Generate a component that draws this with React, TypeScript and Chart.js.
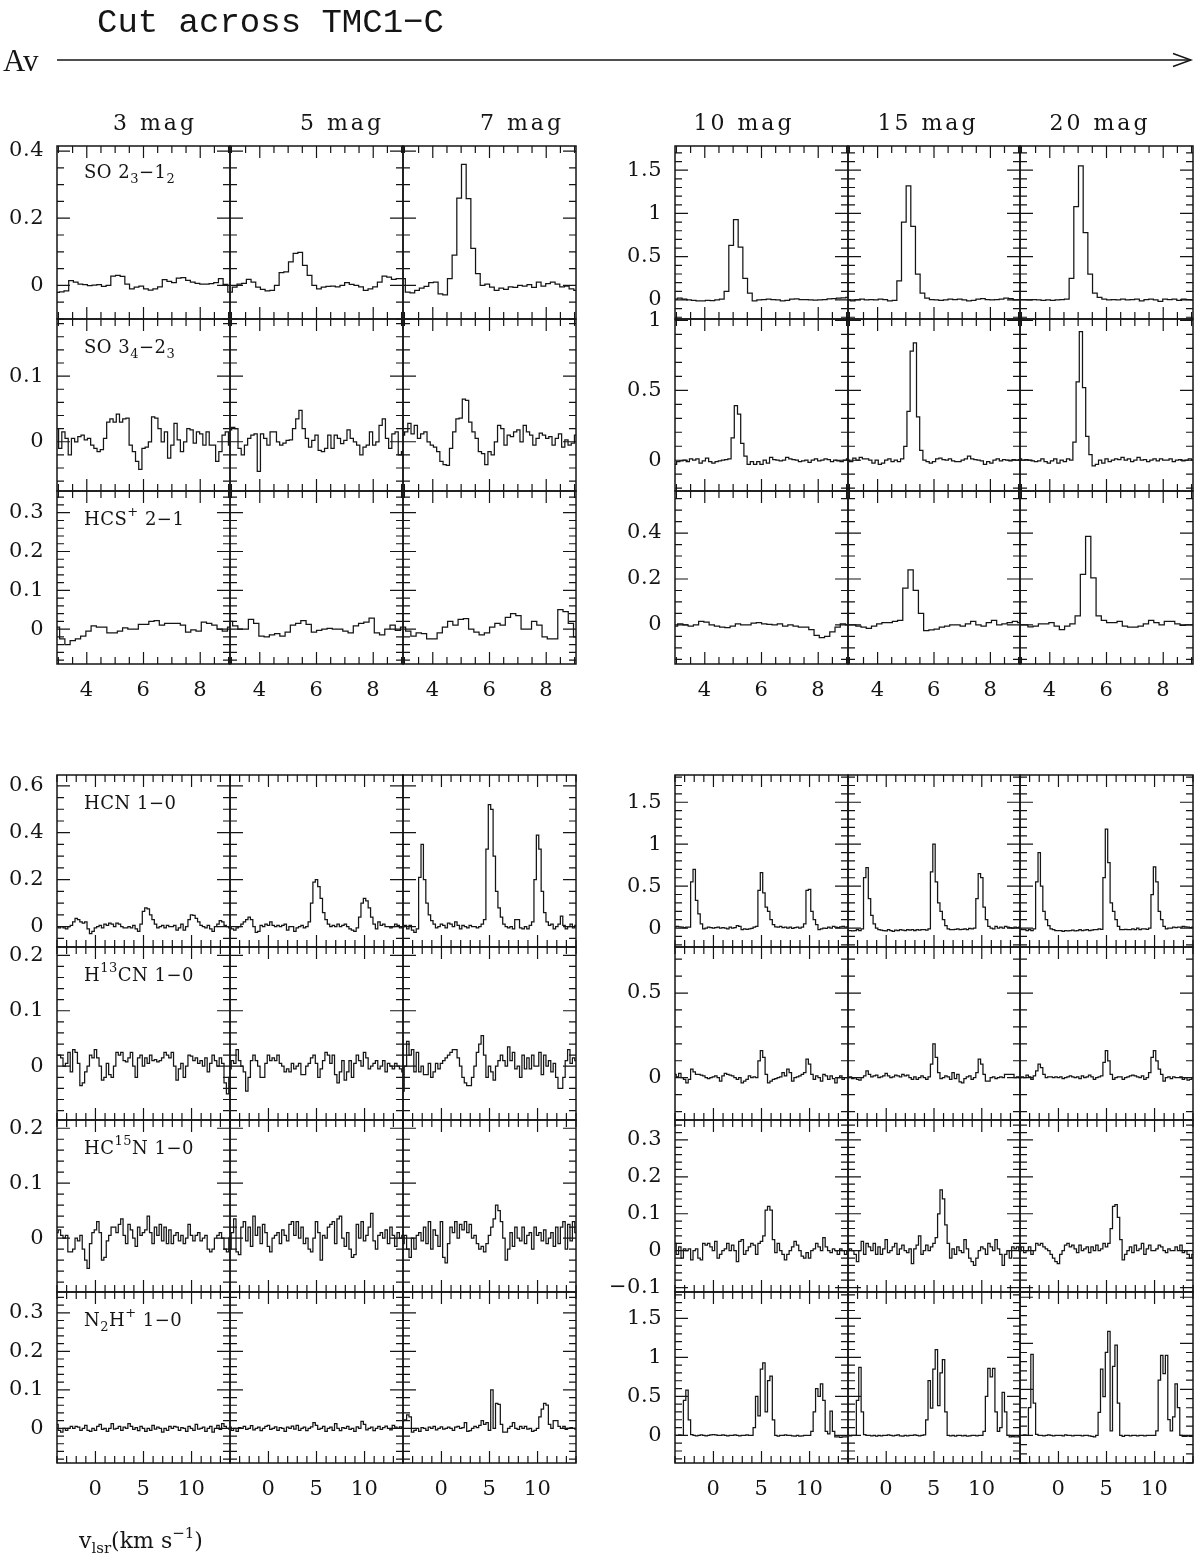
import React, { useEffect, useRef } from "react";
import { Chart, registerables } from "chart.js";

Chart.register(...registerables);

// ---------------- categories & labels ----------------
const magnitudes = ["3 mag", "5 mag", "7 mag", "10 mag", "15 mag", "20 mag"];
const topLines = ["SO 2_{3}−1_{2}", "SO 3_{4}−2_{3}", "HCS^{+} 2−1"];
const bottomLines = ["HCN 1−0", "H^{13}CN 1−0", "HC^{15}N 1−0", "N_{2}H^{+} 1−0"];
const topXTicks = [4, 6, 8];
const bottomXTicks = [0, 5, 10];

// ---------------- channel velocity axes (km/s) ----------------
const so21_v0 = 2.95, so21_dv = 0.165;
const so32_v0 = 2.95, so32_dv = 0.113;
const hcsp_v0 = 2.95, hcsp_dv = 0.185;
const wide_v0 = -4, wide_dv = 0.25;

// ---------------- SO 2_3-1_2 ----------------
const so21_av3 = [-0.021, -0.019, -0.016, 0.014, 0.010, 0.004, 0.002, -0.001, 0.001, 0.002,
  -0.003, 0.000, 0.028, 0.030, 0.027, 0.004, -0.010, -0.005, -0.002, -0.010,
  -0.014, -0.010, -0.004, 0.017, 0.012, 0.008, 0.022, 0.023, 0.015, 0.010,
  0.006, 0.004, 0.004, 0.005, 0.008, 0.020, 0.003, -0.020];
const so21_av5 = [-0.020, -0.005, 0.004, 0.006, 0.018, 0.010, -0.005, -0.012, -0.016, -0.015,
  0.000, 0.038, 0.040, 0.070, 0.095, 0.098, 0.060, 0.030, 0.000, -0.010,
  -0.005, -0.003, -0.002, -0.004, 0.000, 0.008, 0.003, 0.000, -0.004, -0.015,
  -0.010, -0.004, 0.010, 0.028, 0.025, 0.018, 0.020, 0.020];
const so21_av7 = [0.020, -0.020, -0.022, -0.015, -0.008, -0.003, 0.008, 0.010, -0.025, -0.028,
  0.020, 0.090, 0.260, 0.360, 0.258, 0.110, 0.035, 0.000, 0.004, -0.005,
  -0.015, -0.008, -0.012, -0.004, -0.006, 0.000, -0.002, 0.002, -0.006, 0.010,
  -0.002, 0.005, 0.010, 0.004, -0.004, -0.002, -0.010, -0.015];
const so21_av10 = [0.010, 0.020, 0.010, 0.000, -0.005, -0.010, -0.010, -0.005, -0.008, 0.000,
  0.010, 0.100, 0.630, 0.930, 0.610, 0.250, 0.080, -0.010, 0.000, 0.005,
  0.010, 0.005, 0.000, -0.010, -0.005, 0.010, 0.012, 0.005, 0.005, 0.000,
  -0.003, 0.000, 0.005, 0.012, 0.015, 0.020, 0.025, 0.030];
const so21_av15 = [0.000, -0.010, 0.005, 0.010, 0.000, 0.005, 0.000, 0.010, 0.005, -0.010,
  -0.005, 0.220, 0.900, 1.320, 0.850, 0.300, 0.080, 0.020, 0.005, 0.000,
  -0.005, 0.000, 0.010, 0.005, 0.010, 0.000, -0.010, -0.005, 0.010, 0.015,
  0.005, 0.000, 0.005, 0.010, 0.020, 0.015, 0.000, 0.005];
const so21_av20 = [0.005, 0.005, 0.000, 0.005, 0.000, -0.005, 0.000, -0.005, 0.000, 0.005,
  0.010, 0.250, 1.080, 1.550, 0.780, 0.300, 0.080, 0.030, 0.010, 0.000,
  0.005, 0.000, 0.010, 0.000, 0.005, 0.010, -0.010, 0.005, 0.010, 0.000,
  -0.015, 0.010, 0.005, 0.010, -0.005, 0.010, 0.005, 0.000];

// ---------------- SO 3_4-2_3 ----------------
const so32_av3 = [0.020, -0.010, 0.015, 0.005, -0.020, 0.005, 0.000, 0.008, 0.010, 0.003,
  0.005, -0.005, -0.010, -0.015, -0.012, 0.005, 0.030, 0.035, 0.030, 0.042,
  0.030, 0.035, 0.036, -0.005, -0.015, -0.030, -0.042, -0.010, -0.008, 0.000,
  0.038, 0.036, 0.020, 0.000, 0.015, -0.025, -0.005, 0.028, 0.003, -0.015,
  0.000, 0.020, 0.018, -0.002, 0.015, 0.012, -0.005, 0.015, -0.005, -0.005,
  -0.030, -0.015, 0.010, 0.015, -0.005];
const so32_av5 = [0.018, 0.022, 0.020, -0.010, -0.020, -0.005, 0.005, 0.010, 0.012, -0.045,
  0.012, 0.005, -0.005, 0.015, 0.015, 0.000, -0.005, -0.002, 0.002,
  0.003, 0.020, 0.035, 0.048, 0.020, 0.005, -0.008, 0.002, 0.010, -0.013,
  -0.015, -0.010, 0.010, -0.010, 0.010, 0.005, -0.003, 0.002, 0.018, 0.005,
  0.000, -0.005, -0.020, -0.008, -0.005, 0.015, -0.005, 0.000, 0.025, 0.035,
  0.005, -0.010, 0.012, 0.015, -0.020, -0.015];
const so32_av7 = [0.010, 0.015, 0.028, 0.012, 0.025, 0.005, 0.012, 0.015, 0.000, -0.005,
  -0.008, -0.015, -0.030, -0.035, -0.036, -0.010, 0.015, 0.035, 0.036,
  0.065, 0.063, 0.030, 0.015, 0.005, -0.015, -0.018, -0.035, -0.015, -0.020,
  0.000, 0.025, 0.020, -0.005, 0.010, 0.008, 0.015, 0.018, 0.000, 0.025,
  0.015, 0.010, -0.005, 0.005, 0.013, 0.010, 0.005, 0.008, -0.005,
  0.005, 0.012, -0.008, 0.003, -0.005, -0.002, 0.010];
const so32_av10 = [-0.030, -0.010, -0.005, 0.000, -0.010, 0.010, 0.000, 0.010, -0.020, -0.005,
  0.015, -0.010, -0.020, -0.010, -0.005, 0.000, 0.005, 0.010,
  0.160, 0.390, 0.330, 0.120, 0.030,
  -0.030, -0.010, -0.030, -0.010, -0.030, 0.000, -0.020, 0.020, 0.005, 0.000,
  -0.005, 0.000, 0.020, 0.010, 0.005, 0.000, -0.010, -0.005, 0.000, -0.015,
  0.000, 0.010, -0.005, 0.000, 0.010, 0.005, -0.010, 0.000, -0.005, -0.010, 0.000, 0.010];
const so32_av15 = [0.000, -0.010, 0.015, 0.000, 0.020, 0.010, 0.010, 0.000, -0.020, 0.000,
  -0.030, -0.020, 0.000, 0.010, -0.010, 0.000, -0.010, 0.010,
  0.100, 0.350, 0.780, 0.840, 0.310, 0.070, 0.000,
  -0.010, -0.020, -0.010, 0.010, 0.015, 0.005, 0.000, 0.010, -0.005, -0.010,
  -0.010, 0.000, 0.010, 0.030, 0.010, 0.005, 0.000, -0.005, -0.030, -0.010,
  -0.020, 0.000, 0.010, -0.005, 0.005, 0.000, -0.005, 0.005, 0.000, 0.005];
const so32_av20 = [0.010, 0.000, 0.005, 0.000, -0.005, -0.010, -0.005, 0.010, -0.010, -0.020,
  -0.005, 0.010, -0.020, 0.000, -0.010, 0.010, 0.000,
  0.130, 0.560, 0.920, 0.520, 0.170, 0.040, -0.040, -0.030,
  0.000, -0.020, 0.010, -0.010, 0.000, 0.010, 0.005, 0.020, 0.000, 0.010,
  -0.010, 0.000, 0.020, 0.000, 0.005, -0.010, 0.000, 0.010, -0.005, 0.010,
  0.000, 0.000, 0.010, -0.010, 0.000, 0.005, -0.005, 0.000, 0.010, 0.000];

// ---------------- HCS+ 2-1 ----------------
const hcsp_av3 = [0.005, -0.025, -0.040, -0.030, -0.025, -0.018, -0.005, 0.008, 0.005, 0.005,
  -0.010, -0.010, -0.005, 0.003, 0.000, 0.000, 0.012, 0.012, 0.020, 0.022,
  0.010, 0.015, 0.015, 0.015, 0.010, -0.008, -0.002, -0.005, 0.018, 0.015,
  0.010, 0.000, -0.005, 0.005];
const hcsp_av5 = [0.020, 0.008, 0.000, 0.000, 0.025, 0.015, -0.018, -0.020, -0.015, -0.012,
  -0.018, -0.008, 0.010, 0.015, 0.022, 0.012, -0.008, -0.003, 0.000, 0.002,
  0.000, 0.000, -0.005, -0.010, 0.008, 0.015, 0.018, 0.028, -0.010, -0.015,
  0.000, 0.010, -0.003, 0.005];
const hcsp_av7 = [0.005, -0.005, -0.018, -0.010, -0.012, -0.025, -0.025, -0.010, 0.005, 0.020,
  0.010, 0.025, 0.027, 0.000, -0.008, -0.015, -0.010, 0.005, 0.015, 0.010,
  0.030, 0.040, 0.035, 0.000, 0.000, 0.020, 0.010, -0.020, -0.025, -0.025,
  0.050, 0.045, 0.015, -0.020];
const hcsp_av10 = [-0.005, 0.005, 0.000, -0.005, 0.000, 0.015, 0.012, 0.000, -0.005, -0.010,
  -0.012, -0.005, 0.005, 0.000, 0.000, 0.008, 0.010, 0.005, 0.002, 0.000,
  0.005, -0.005, 0.000, -0.005, -0.010, -0.010, -0.020, -0.045, -0.055, -0.050,
  -0.030, -0.010, 0.005, 0.000];
const hcsp_av15 = [0.000, 0.000, -0.005, -0.010, -0.015, -0.005, 0.005, 0.010, 0.010, 0.015,
  0.020, 0.160, 0.240, 0.150, 0.050, -0.025, -0.022, -0.018, -0.010, -0.005,
  0.000, 0.000, -0.005, 0.005, 0.015, 0.000, -0.005, 0.010, 0.020, 0.000,
  0.005, 0.010, 0.015, 0.010];
const hcsp_av20 = [0.000, 0.000, -0.008, -0.005, 0.005, 0.005, 0.010, -0.005, -0.020, -0.005,
  0.005, 0.040, 0.220, 0.385, 0.205, 0.040, 0.020, 0.010, 0.010, 0.015,
  -0.005, -0.010, -0.010, -0.005, 0.005, 0.020, 0.010, 0.000, 0.015, 0.015,
  0.005, -0.002, 0.000, 0.000];

// ---------------- HCN 1-0 ----------------
const hcn_av3 = [0.0, -0.005, 0.0, -0.005, -0.01, 0.0, 0.005, 0.02,
  0.035, 0.03, 0.02, 0.015, 0.02, -0.01, -0.03, -0.02,
  -0.005, 0.0, 0.005, -0.005, 0.01, 0.005, 0.015, 0.01,
  0.0, 0.015, 0.01, 0.0, -0.005, -0.005, 0.0, -0.005,
  0.005, -0.01, -0.02, 0.01, 0.065, 0.08, 0.075, 0.05,
  0.03, 0.01, -0.005, 0.0, 0.005, -0.005, 0.005, 0.0,
  0.0, 0.005, -0.015, -0.005, 0.01, -0.015, 0.0, 0.03,
  0.05, 0.048, 0.035, 0.02, 0.005, 0.0, -0.005, 0.005,
  -0.01, -0.02, 0.0, 0.01, 0.025, 0.02, 0.005, 0.0,
  -0.005];
const hcn_av5 = [0.0, -0.01, -0.015, -0.005, 0.0, 0.01, 0.02, 0.03,
  0.04, 0.03, 0.0, -0.025, -0.02, 0.005, 0.0, 0.01,
  0.005, 0.02, 0.005, 0.0, 0.005, 0.0, 0.005, 0.01,
  -0.015, 0.0, 0.0, -0.02, -0.005, 0.0, 0.005, -0.005,
  0.0, 0.02, 0.1, 0.19, 0.2, 0.17, 0.12, 0.06,
  0.03, 0.01, 0.0, 0.005, 0.0, 0.01, 0.0, 0.005,
  0.01, 0.0, -0.01, -0.015, -0.02, -0.005, 0.04, 0.1,
  0.12, 0.11, 0.08, 0.04, 0.01, -0.01, 0.02, 0.005,
  0.01, 0.0, 0.0, -0.005, 0.0, 0.01, 0.005, -0.005,
  0.0];
const hcn_av7 = [0.0, 0.005, -0.01, 0.005, -0.015, -0.025, -0.01, 0.21,
  0.35, 0.2, 0.1, 0.05, 0.025, 0.01, -0.005, 0.0,
  0.01, 0.005, -0.005, 0.015, 0.01, 0.0, 0.02, 0.005,
  -0.01, 0.005, 0.0, -0.005, 0.005, 0.0, 0.0, -0.005,
  0.0, 0.01, 0.03, 0.33, 0.52, 0.5, 0.3, 0.15,
  0.08, 0.04, 0.01, 0.0, -0.005, 0.0, -0.01, 0.03,
  0.03, -0.005, -0.01, 0.0, -0.01, 0.005, 0.02, 0.2,
  0.39, 0.33, 0.15, 0.06, 0.02, 0.005, 0.01, -0.01,
  0.0, 0.01, 0.045, 0.005, -0.01, 0.0, 0.01, -0.005,
  0.005];
const hcn_av10 = [0.015, 0.02, 0.015, 0.01, 0.005, 0.01, 0.01, 0.55,
  0.7, 0.33, 0.17, 0.05, -0.01, 0.0, 0.01, 0.005,
  0.0, 0.005, 0.01, 0.0, 0.005, 0.0, -0.01, 0.01,
  0.0, 0.005, 0.03, 0.02, -0.02, -0.01, -0.015, -0.01,
  -0.005, 0.01, 0.02, 0.45, 0.66, 0.42, 0.25, 0.2,
  0.1, 0.04, 0.015, 0.01, 0.02, 0.005, 0.01, 0.0,
  0.01, -0.005, 0.005, 0.01, 0.0, 0.01, 0.05, 0.45,
  0.46, 0.2, 0.1, 0.04, -0.02, -0.01, 0.0, -0.005,
  0.01, 0.0, 0.02, 0.01, 0.005, 0.015, 0.02, 0.01,
  0.015];
const hcn_av15 = [-0.03, -0.03, -0.035, -0.03, -0.02, -0.03, -0.01, 0.6,
  0.72, 0.35, 0.15, 0.05, 0.0, -0.02, -0.025, -0.03,
  -0.035, -0.02, -0.03, -0.04, -0.025, -0.03, -0.02, -0.025,
  -0.03, -0.02, -0.025, -0.02, -0.03, -0.02, -0.025, -0.02,
  -0.02, -0.025, -0.01, 0.67, 1.0, 0.55, 0.3, 0.2,
  0.1, 0.03, -0.01, -0.02, -0.02, -0.015, -0.01, -0.02,
  -0.015, -0.01, -0.02, -0.005, -0.01, 0.0, 0.35, 0.65,
  0.6, 0.25, 0.1, 0.02, 0.0, -0.01, 0.02, 0.0,
  0.01, 0.0, 0.02, 0.01, 0.005, 0.0, 0.01, 0.005,
  0.01];
const hcn_av20 = [-0.01, -0.02, -0.02, -0.03, -0.02, -0.03, -0.01, 0.55,
  0.9, 0.5, 0.2, 0.1, 0.03, -0.01, -0.02, -0.03,
  -0.03, -0.03, -0.04, -0.03, -0.035, -0.03, -0.025, -0.035,
  -0.03, -0.02, -0.03, -0.025, -0.02, -0.03, -0.025, -0.02,
  -0.02, -0.01, -0.015, 0.6, 1.18, 0.78, 0.3, 0.2,
  0.1, 0.02, -0.02, -0.02, -0.015, -0.02, -0.02, -0.01,
  -0.02, 0.0, -0.02, -0.01, -0.01, -0.015, 0.0, 0.4,
  0.73, 0.55, 0.2, 0.1, 0.02, -0.01, 0.0, 0.0,
  0.01, 0.005, 0.01, 0.01, 0.02, 0.015, 0.01, 0.005,
  0.01];

// ---------------- H13CN 1-0 ----------------
const h13cn_av3 = [0.02, 0.02, 0.015, 0.0, 0.005, 0.025, -0.01, 0.03,
  0.025, 0.005, -0.035, -0.03, -0.01, 0.0, 0.02, 0.015,
  0.03, 0.015, 0.0, -0.025, -0.02, 0.005, -0.015, -0.02,
  0.0, 0.025, 0.02, 0.025, 0.01, 0.008, 0.015, 0.025,
  0.0, -0.02, 0.015, 0.02, 0.0, 0.015, 0.005, 0.02,
  0.01, 0.012, 0.008, 0.01, 0.015, 0.025, 0.02, 0.015,
  0.025, 0.0, -0.025, -0.005, 0.005, -0.02, 0.0, 0.02,
  0.018, 0.01, 0.015, 0.005, 0.01, 0.0, 0.015, -0.01,
  0.005, 0.02, 0.01, 0.0, 0.015, 0.005, -0.03, -0.05,
  -0.02];
const h13cn_av5 = [-0.005, 0.01, 0.005, 0.03, 0.01, 0.0, -0.01, -0.045,
  -0.02, 0.01, 0.02, 0.01, 0.0, -0.02, -0.02, 0.005,
  0.02, 0.01, 0.015, 0.01, 0.02, 0.005, 0.0, -0.01,
  -0.005, -0.01, 0.005, -0.005, 0.0, 0.005, -0.015, -0.015,
  0.0, 0.005, 0.015, 0.02, 0.005, -0.02, -0.005, 0.01,
  0.025, 0.02, 0.005, 0.02, -0.015, -0.03, -0.01, 0.01,
  -0.025, -0.01, 0.01, -0.02, 0.005, 0.02, 0.01, 0.0,
  0.025, 0.015, -0.005, 0.0, 0.005, 0.01, -0.005, 0.0,
  0.01, -0.01, 0.005, 0.0, -0.005, 0.005, 0.0, -0.005,
  -0.01];
const h13cn_av7 = [-0.045, 0.0, 0.045, 0.02, 0.03, -0.01, 0.025, -0.01,
  0.0, -0.015, -0.015, 0.005, -0.02, -0.01, 0.005, -0.005,
  0.005, 0.01, 0.015, 0.02, 0.025, 0.03, 0.03, 0.015,
  0.0, -0.02, -0.03, -0.035, -0.035, -0.02, 0.0, 0.025,
  0.04, 0.055, 0.02, -0.02, 0.0, -0.01, -0.025, 0.0,
  0.01, 0.02, 0.01, 0.0, 0.035, 0.01, 0.025, -0.005,
  0.0, -0.02, 0.02, -0.005, 0.015, -0.005, 0.02, 0.0,
  0.0, 0.025, -0.015, 0.02, 0.0, 0.01, -0.01, 0.005,
  -0.02, -0.04, -0.04, -0.02, 0.01, 0.03, 0.005, 0.015,
  0.01];
const h13cn_av10 = [0.02, 0.005, 0.025, 0.0, -0.01, -0.03, -0.01, 0.05,
  0.035, 0.02, 0.02, 0.015, 0.01, 0.0, -0.005, 0.0,
  0.005, 0.01, 0.0, -0.02, 0.01, 0.025, 0.02, 0.015,
  0.01, 0.0, -0.01, 0.0, -0.03, -0.02, -0.01, 0.01,
  0.0, 0.005, 0.0, 0.1, 0.16, 0.12, 0.02, -0.03,
  -0.02, -0.01, -0.005, 0.0, 0.005, 0.03, 0.01, 0.05,
  0.03, -0.02, 0.0, 0.005, 0.01, 0.02, 0.03, 0.11,
  0.08, 0.02, -0.01, 0.01, 0.0, -0.02, 0.02, 0.01,
  -0.01, 0.01, -0.005, -0.03, 0.0, 0.01, -0.01, 0.0,
  0.0];
const h13cn_av15 = [0.0, 0.005, -0.005, 0.0, -0.01, -0.015, 0.0, 0.01,
  0.04, 0.02, 0.005, 0.01, 0.015, 0.0, 0.005, 0.01,
  0.025, 0.01, 0.0, 0.005, 0.015, 0.01, 0.005, 0.02,
  0.01, 0.015, 0.0, -0.01, 0.005, -0.01, 0.0, 0.01,
  0.0, -0.01, 0.005, 0.08, 0.2, 0.12, 0.03, -0.005,
  0.0, 0.01, 0.005, -0.01, 0.03, -0.005, 0.02, -0.025,
  -0.03, -0.005, 0.005, 0.01, -0.01, 0.0, 0.03, 0.11,
  0.08, 0.02, -0.02, -0.02, 0.0, 0.005, -0.005, 0.0,
  0.005, 0.0, 0.02, 0.02, 0.02, 0.02, 0.0, 0.005,
  0.0];
const h13cn_av20 = [0.0, 0.005, 0.0, 0.015, 0.005, -0.01, 0.01, 0.04,
  0.08, 0.06, 0.02, 0.0, 0.005, 0.005, 0.0, 0.005,
  0.0, 0.005, -0.005, 0.0, 0.005, 0.01, 0.005, 0.0,
  0.005, -0.005, 0.01, 0.0, 0.005, 0.015, 0.005, -0.01,
  0.0, 0.005, 0.01, 0.09, 0.16, 0.1, 0.02, -0.01,
  0.0, 0.005, 0.005, -0.01, 0.0, 0.005, 0.01, 0.015,
  0.01, 0.005, 0.0, 0.01, -0.01, 0.0, 0.03, 0.12,
  0.16, 0.1, 0.05, 0.02, -0.02, 0.0, 0.005, -0.005,
  0.005, 0.0, 0.0, 0.005, -0.01, 0.0, -0.015, -0.01,
  0.0];

// ---------------- HC15N 1-0 ----------------
const hc15n_av3 = [0.01, 0.015, 0.005, 0.0, 0.005, -0.025, -0.025, -0.02,
  0.0, -0.005, 0.005, -0.02, -0.04, -0.055, -0.01, 0.01,
  0.015, 0.03, 0.01, -0.04, -0.035, -0.005, 0.005, 0.02,
  0.02, 0.01, 0.025, 0.035, 0.005, -0.01, 0.025, 0.015,
  0.0, -0.015, 0.02, 0.005, 0.01, 0.015, 0.04, 0.01,
  -0.01, 0.02, 0.005, 0.025, -0.005, 0.02, -0.01, 0.015,
  -0.01, 0.005, 0.01, -0.005, 0.005, -0.01, 0.0, 0.025,
  0.005, -0.005, 0.005, 0.01, -0.005, 0.0, 0.005, -0.02,
  -0.025, -0.02, 0.0, 0.005, 0.01, 0.0, -0.02, -0.025,
  0.0];
const hc15n_av5 = [-0.02, 0.01, 0.035, -0.025, -0.03, 0.02, 0.03, -0.005,
  0.02, -0.015, 0.04, 0.005, 0.02, -0.01, 0.025, 0.01,
  -0.015, -0.025, 0.0, 0.005, 0.01, -0.01, 0.015, 0.005,
  -0.005, 0.025, 0.03, 0.005, 0.03, 0.0, 0.02, -0.01,
  0.0, -0.02, -0.025, 0.0, 0.03, 0.01, -0.04, 0.005,
  0.0, 0.02, 0.025, 0.03, -0.01, 0.035, 0.04, 0.0,
  -0.015, 0.01, -0.02, -0.035, -0.03, 0.025, 0.0, 0.03,
  -0.005, 0.005, 0.02, 0.045, -0.005, -0.02, 0.005, 0.01,
  0.0, 0.015, -0.01, 0.02, 0.005, -0.015, 0.01, 0.0,
  0.005];
const hc15n_av7 = [-0.01, 0.005, -0.02, -0.035, 0.0, -0.02, 0.005, 0.01,
  -0.005, 0.02, -0.01, 0.03, -0.02, 0.015, 0.005, -0.015,
  0.03, -0.035, -0.045, -0.01, 0.02, 0.01, 0.03, 0.0,
  0.025, 0.015, 0.03, 0.01, 0.025, 0.0, 0.005, -0.01,
  -0.02, -0.015, -0.025, -0.01, 0.005, 0.02, 0.035, 0.06,
  0.05, 0.03, 0.0, -0.04, -0.02, 0.01, -0.015, 0.02,
  0.0, -0.005, 0.02, -0.01, 0.005, 0.01, -0.02, 0.02,
  0.005, 0.01, -0.005, 0.015, -0.01, 0.0, 0.01, -0.015,
  0.02, -0.01, 0.02, 0.03, -0.02, 0.025, -0.005, 0.03,
  0.01];
const hc15n_av10 = [0.02, -0.01, 0.01, -0.02, 0.005, 0.0, 0.005, -0.025,
  0.0, 0.005, -0.02, -0.025, 0.02, 0.015, 0.02, 0.01,
  0.0, 0.025, -0.02, -0.01, 0.0, 0.005, 0.02, 0.0,
  0.015, 0.0, -0.03, 0.025, 0.03, -0.01, 0.0, 0.01,
  0.02, 0.015, -0.01, 0.02, 0.025, 0.04, 0.11, 0.12,
  0.11, 0.03, -0.005, 0.02, 0.0, -0.01, -0.025, -0.01,
  0.0, 0.01, 0.025, 0.015, 0.0, -0.015, -0.02, -0.005,
  -0.02, 0.0, 0.005, 0.02, 0.01, 0.0, 0.035, 0.01,
  0.0, -0.005, 0.005, 0.0, -0.01, 0.005, 0.0, -0.01,
  0.0];
const hc15n_av15 = [0.0, 0.005, 0.0, -0.01, -0.03, 0.0, 0.025, -0.01,
  0.02, 0.01, 0.0, 0.02, -0.01, 0.01, -0.01, 0.005,
  0.03, -0.005, 0.0, 0.01, 0.02, -0.01, 0.005, 0.015,
  0.0, -0.005, 0.005, -0.035, 0.005, 0.015, 0.04, -0.01,
  0.0, 0.015, 0.0, 0.01, 0.02, 0.035, 0.1, 0.165,
  0.14, 0.07, 0.02, -0.02, 0.005, -0.01, 0.01, 0.0,
  -0.005, 0.03, 0.005, -0.02, -0.03, -0.04, -0.02, 0.0,
  0.01, 0.005, -0.01, 0.02, 0.01, 0.0, 0.03, 0.005,
  -0.01, -0.04, -0.01, 0.0, -0.02, 0.01, 0.005, 0.01,
  0.0];
const hc15n_av20 = [0.0, 0.01, -0.005, 0.0, 0.01, -0.01, 0.0, 0.02,
  0.015, 0.02, 0.01, 0.005, 0.0, -0.01, -0.02, -0.03,
  -0.035, -0.01, 0.0, 0.015, 0.02, 0.01, 0.015, 0.005,
  -0.005, 0.015, 0.0, 0.005, 0.01, -0.005, 0.01, 0.0,
  0.015, 0.0, 0.005, 0.02, 0.01, 0.02, 0.06, 0.12,
  0.125, 0.09, 0.03, -0.025, -0.01, 0.0, 0.01, -0.005,
  0.015, 0.0, 0.005, 0.02, -0.01, 0.005, 0.015, 0.0,
  0.0, 0.005, 0.015, 0.01, 0.0, -0.005, 0.005, 0.0,
  0.0, 0.01, 0.0, 0.015, -0.005, 0.0, -0.01, -0.02,
  -0.01];

// ---------------- N2H+ 1-0 ----------------
const n2hp_av3 = [0.01, -0.005, -0.01, 0.0, -0.005, 0.0, 0.005, 0.0,
  0.005, 0.003, -0.005, 0.0, 0.008, -0.005, -0.008, 0.0,
  -0.005, 0.005, 0.01, -0.003, 0.0, -0.008, 0.0, 0.012,
  -0.002, 0.0, 0.005, -0.005, 0.003, 0.0, 0.012, 0.005,
  -0.003, 0.002, -0.006, 0.005, 0.0, -0.008, 0.0, -0.005,
  0.008, -0.002, 0.003, 0.0, -0.01, 0.0, -0.005, 0.005,
  0.0, 0.005, 0.003, -0.005, 0.002, 0.0, -0.008, 0.005,
  0.0, -0.005, 0.01, -0.002, 0.0, 0.003, -0.008, 0.0,
  0.005, -0.01, 0.0, 0.008, -0.003, 0.012, 0.005, 0.0,
  -0.002];
const n2hp_av5 = [0.003, -0.005, 0.0, -0.008, 0.002, 0.0, 0.005, -0.003,
  0.0, 0.007, -0.004, 0.0, 0.003, -0.006, 0.0, 0.005,
  0.008, -0.003, 0.0, 0.004, -0.005, 0.002, 0.0, -0.008,
  0.003, 0.0, 0.006, -0.002, 0.008, -0.005, 0.0, 0.003,
  -0.006, 0.0, 0.004, 0.015, 0.008, -0.003, 0.0, 0.005,
  -0.008, 0.0, 0.003, -0.005, 0.012, 0.0, -0.006, 0.002,
  0.0, 0.005, -0.003, 0.0, -0.008, 0.004, 0.0, 0.018,
  0.01, -0.004, 0.0, 0.003, -0.006, 0.0, 0.005, -0.003,
  0.002, 0.006, 0.0, -0.004, 0.008, 0.003, 0.0, 0.004,
  0.002];
const n2hp_av7 = [0.02, 0.022, 0.035, 0.03, -0.01, -0.005, 0.0, -0.008,
  0.002, 0.0, -0.005, 0.003, 0.0, 0.005, -0.004, 0.0,
  0.004, -0.002, 0.0, 0.003, 0.0, -0.005, 0.003, 0.005,
  0.0, 0.002, 0.015, -0.008, -0.006, 0.0, 0.005, 0.002,
  0.008, 0.02, 0.01, 0.015, -0.005, 0.1, 0.0, 0.065,
  0.062, 0.01, -0.01, -0.01, 0.0, 0.005, 0.015, 0.0,
  -0.003, 0.005, 0.0, 0.005, -0.002, 0.0, -0.008, -0.005,
  0.0, 0.03, 0.05, 0.065, 0.06, 0.01, 0.0, 0.02,
  0.02, 0.005, 0.0, 0.005, -0.003, 0.0, 0.002, 0.0,
  -0.002];
const n2hp_av10 = [0.0, 0.0, 0.005, 0.0, 0.45, 0.58, 0.2, 0.01,
  0.0, -0.005, 0.0, 0.005, 0.0, -0.005, 0.0, 0.005,
  0.01, 0.005, 0.0, 0.0, 0.005, 0.0, -0.005, 0.0,
  0.0, 0.005, 0.0, -0.005, 0.0, 0.0, 0.005, 0.0,
  0.0, 0.1, 0.5, 0.25, 0.85, 0.93, 0.3, 0.7,
  0.76, 0.2, 0.0, -0.01, 0.0, 0.0, 0.005, 0.0,
  0.0, -0.005, -0.01, 0.0, -0.01, -0.005, 0.0, 0.0,
  0.0, 0.05, 0.3, 0.6, 0.5, 0.66, 0.45, 0.05,
  0.02, 0.31, 0.05, -0.02, -0.02, -0.025, -0.02, -0.02,
  -0.02];
const n2hp_av15 = [0.0, -0.005, 0.0, 0.0, 0.45, 0.87, 0.3, 0.01,
  0.0, 0.0, -0.005, 0.0, -0.01, 0.0, -0.005, 0.0,
  0.0, 0.005, 0.0, -0.005, 0.0, 0.005, -0.005, -0.01,
  0.0, -0.005, 0.0, 0.0, 0.005, 0.0, -0.005, 0.0,
  0.005, 0.2, 0.7, 0.35, 0.85, 1.1, 0.38, 0.8,
  0.97, 0.3, 0.0, -0.005, 0.0, -0.01, 0.0, 0.0,
  -0.005, 0.0, -0.01, -0.005, 0.0, 0.0, -0.005, 0.0,
  0.0, 0.05, 0.5, 0.86, 0.75, 0.86, 0.3, 0.05,
  0.1, 0.55, 0.3, 0.0, -0.02, -0.015, -0.02, -0.02,
  -0.015];
const n2hp_av20 = [0.0, 0.0, 0.005, 0.0, 0.3, 0.88, 0.35, 0.01,
  0.0, 0.0, -0.005, 0.0, 0.005, 0.0, -0.005, 0.0,
  0.0, 0.0, -0.005, 0.005, 0.0, 0.0, -0.005, 0.0,
  0.0, 0.0, -0.005, 0.0, 0.0, -0.005, -0.01, -0.015,
  0.0, 0.25, 0.72, 0.42, 0.9, 1.13, 0.05, 0.75,
  0.98, 0.35, 0.0, -0.01, 0.0, 0.0, -0.005, 0.0,
  0.0, -0.005, 0.0, 0.0, -0.005, 0.0, 0.0, 0.0,
  0.0, 0.05, 0.6, 0.87, 0.67, 0.87, 0.17, 0.05,
  0.2, 0.56, 0.3, 0.0, -0.01, -0.01, -0.005, -0.01,
  -0.01];

// ---------------- grouping ----------------
const topSpectra = [
  [so21_av3, so21_av5, so21_av7, so21_av10, so21_av15, so21_av20],
  [so32_av3, so32_av5, so32_av7, so32_av10, so32_av15, so32_av20],
  [hcsp_av3, hcsp_av5, hcsp_av7, hcsp_av10, hcsp_av15, hcsp_av20],
];
const topChannels = [[so21_v0, so21_dv], [so32_v0, so32_dv], [hcsp_v0, hcsp_dv]];
const bottomSpectra = [
  [hcn_av3, hcn_av5, hcn_av7, hcn_av10, hcn_av15, hcn_av20],
  [h13cn_av3, h13cn_av5, h13cn_av7, h13cn_av10, h13cn_av15, h13cn_av20],
  [hc15n_av3, hc15n_av5, hc15n_av7, hc15n_av10, hc15n_av15, hc15n_av20],
  [n2hp_av3, n2hp_av5, n2hp_av7, n2hp_av10, n2hp_av15, n2hp_av20],
];

// ---------------- axes settings ----------------
type YAx = { min: number; max: number; major: number; minor: number };
type XAx = { min: number; max: number; ticks: number[]; minor: number };
const topX: XAx = { min: 2.95, max: 9.05, ticks: topXTicks, minor: 0.5 };
const botX: XAx = { min: -4, max: 14, ticks: bottomXTicks, minor: 1 };
const yTopLeft: YAx[] = [
  { min: -0.1, max: 0.415, major: 0.2, minor: 0.05 },
  { min: -0.075, max: 0.187, major: 0.1, minor: 0.02 },
  { min: -0.09, max: 0.356, major: 0.1, minor: 0.02 },
];
const yTopRight: YAx[] = [
  { min: -0.22, max: 1.78, major: 0.5, minor: 0.1 },
  { min: -0.22, max: 1.01, major: 0.5, minor: 0.1 },
  { min: -0.17, max: 0.583, major: 0.2, minor: 0.05 },
];
const yBotLeft: YAx[] = [
  { min: -0.087, max: 0.646, major: 0.2, minor: 0.05 },
  { min: -0.097, max: 0.215, major: 0.1, minor: 0.02 },
  { min: -0.098, max: 0.215, major: 0.1, minor: 0.02 },
  { min: -0.09, max: 0.354, major: 0.1, minor: 0.02 },
];
const yBotRight: YAx[] = [
  { min: -0.226, max: 1.825, major: 0.5, minor: 0.1 },
  { min: -0.25, max: 0.772, major: 0.5, minor: 0.1 },
  { min: -0.112, max: 0.354, major: 0.1, minor: 0.02 },
  { min: -0.354, max: 1.837, major: 0.5, minor: 0.1 },
];
const yN2HP20: YAx = { min: -0.3, max: 1.557, major: 0.5, minor: 0.1 };

// ---------------- layout (pixels) ----------------
const colEdges = [[57, 230, 403, 576], [675, 848, 1020, 1193]];
const topRowEdges = [146, 319, 491, 664];
const botRowEdges = [775, 947, 1120, 1292, 1463];
const PADL = 72, PADT = 16, PADR = 8, PADB = 46;
const INK = "#151515";
const FONT = '"DejaVu Serif", serif';

type Spec = {
  key: string; left: number; top: number; w: number; h: number;
  values: number[]; v0: number; dv: number; xa: XAx; ya: YAx;
  showX: boolean; showY: boolean; label: string | null; labelDy: number;
};

function buildSpecs(): Spec[] {
  const out: Spec[] = [];
  for (let r = 0; r < 3; r++) {
    for (let g = 0; g < 2; g++) {
      for (let c = 0; c < 3; c++) {
        const col = g * 3 + c;
        out.push({
          key: `t${r}-${col}`,
          left: colEdges[g][c], top: topRowEdges[r],
          w: colEdges[g][c + 1] - colEdges[g][c], h: topRowEdges[r + 1] - topRowEdges[r],
          values: topSpectra[r][col], v0: topChannels[r][0], dv: topChannels[r][1],
          xa: topX, ya: g === 0 ? yTopLeft[r] : yTopRight[r],
          showX: r === 2, showY: c === 0,
          label: g === 0 && c === 0 ? topLines[r] : null,
          labelDy: r === 0 ? 32 : 34,
        });
      }
    }
  }
  for (let r = 0; r < 4; r++) {
    for (let g = 0; g < 2; g++) {
      for (let c = 0; c < 3; c++) {
        const col = g * 3 + c;
        let ya = g === 0 ? yBotLeft[r] : yBotRight[r];
        if (r === 3 && col === 5) ya = yN2HP20;
        out.push({
          key: `b${r}-${col}`,
          left: colEdges[g][c], top: botRowEdges[r],
          w: colEdges[g][c + 1] - colEdges[g][c], h: botRowEdges[r + 1] - botRowEdges[r],
          values: bottomSpectra[r][col], v0: wide_v0, dv: wide_dv,
          xa: botX, ya,
          showX: r === 3, showY: c === 0,
          label: g === 0 && c === 0 ? bottomLines[r] : null,
          labelDy: 34,
        });
      }
    }
  }
  return out;
}
const SPECS = buildSpecs();

function stepsIn(min: number, max: number, step: number): number[] {
  const res: number[] = [];
  const s = Math.ceil(min / step - 1e-7), e = Math.floor(max / step + 1e-7);
  for (let i = s; i <= e; i++) res.push(+(i * step).toFixed(6));
  return res;
}
function isMult(v: number, step: number) {
  const q = v / step;
  return Math.abs(q - Math.round(q)) < 1e-6;
}
function fmt(v: number) {
  if (Math.abs(v) < 1e-9) return "0";
  return String(+v.toFixed(3)).replace("-", "−");
}
function parseLabel(s: string) {
  const out: { t: string; k: number }[] = [];
  const re = /([_^])\{([^}]*)\}/g;
  let last = 0; let m: RegExpExecArray | null;
  while ((m = re.exec(s))) {
    if (m.index > last) out.push({ t: s.slice(last, m.index), k: 0 });
    out.push({ t: m[2], k: m[1] === "_" ? 1 : 2 });
    last = re.lastIndex;
  }
  if (last < s.length) out.push({ t: s.slice(last), k: 0 });
  return out;
}

function makeFrame(sp: Spec) {
  return {
    id: "frame",
    afterDatasetsDraw(chart: any) {
      const { ctx, chartArea: a } = chart;
      const xs = chart.scales.x, ys = chart.scales.y;
      ctx.save();
      ctx.strokeStyle = INK;
      ctx.lineWidth = 1.5;
      ctx.strokeRect(a.left, a.top, a.right - a.left, a.bottom - a.top);
      ctx.lineWidth = 1.2;
      ctx.beginPath();
      for (const v of stepsIn(sp.xa.min, sp.xa.max, sp.xa.minor)) {
        const px = xs.getPixelForValue(v);
        const len = sp.xa.ticks.some((t) => Math.abs(t - v) < 1e-6) ? 12 : 7;
        ctx.moveTo(px, a.bottom); ctx.lineTo(px, a.bottom - len);
        ctx.moveTo(px, a.top); ctx.lineTo(px, a.top + len);
      }
      for (const v of stepsIn(sp.ya.min, sp.ya.max, sp.ya.minor)) {
        const py = ys.getPixelForValue(v);
        const len = isMult(v, sp.ya.major) ? 13 : 7;
        ctx.moveTo(a.left, py); ctx.lineTo(a.left + len, py);
        ctx.moveTo(a.right, py); ctx.lineTo(a.right - len, py);
      }
      ctx.stroke();
      ctx.fillStyle = INK;
      ctx.font = `21px ${FONT}`;
      (ctx as any).letterSpacing = "0.5px";
      if (sp.showY) {
        ctx.textAlign = "right"; ctx.textBaseline = "middle";
        for (const v of stepsIn(sp.ya.min, sp.ya.max, sp.ya.major)) {
          ctx.fillText(fmt(v), a.left - 13, ys.getPixelForValue(v));
        }
      }
      if (sp.showX) {
        ctx.textAlign = "center"; ctx.textBaseline = "middle";
        for (const v of sp.xa.ticks) {
          ctx.fillText(fmt(v), xs.getPixelForValue(v), a.bottom + 27);
        }
      }
      (ctx as any).letterSpacing = "0.5px";
      if (sp.label) {
        ctx.textAlign = "left"; ctx.textBaseline = "alphabetic";
        let x = a.left + 27; const base = a.top + sp.labelDy;
        for (const s of parseLabel(sp.label)) {
          if (s.k === 0) { ctx.font = `18px ${FONT}`; ctx.fillText(s.t, x, base); }
          else if (s.k === 1) { ctx.font = `13px ${FONT}`; ctx.fillText(s.t, x, base + 5); }
          else { ctx.font = `13px ${FONT}`; ctx.fillText(s.t, x, base - 9); }
          x += ctx.measureText(s.t).width;
        }
      }
      (ctx as any).letterSpacing = "0px";
      ctx.restore();
    },
  };
}

function Panel({ sp }: { sp: Spec }) {
  const ref = useRef<HTMLCanvasElement | null>(null);
  const W = PADL + sp.w + PADR, H = PADT + sp.h + PADB;
  useEffect(() => {
    if (!ref.current) return;
    const chart = new Chart(ref.current, {
      type: "line",
      data: {
        datasets: [{
          data: sp.values.map((y, i) => ({ x: sp.v0 + i * sp.dv, y })),
          stepped: "middle",
          borderColor: INK,
          borderWidth: 1.25,
          pointRadius: 0,
          fill: false,
        }],
      },
      options: {
        animation: false,
        responsive: false,
        events: [],
        layout: { padding: { left: PADL, top: PADT, right: PADR, bottom: PADB } },
        scales: {
          x: { type: "linear", min: sp.xa.min, max: sp.xa.max, display: false },
          y: { type: "linear", min: sp.ya.min, max: sp.ya.max, display: false },
        },
        plugins: { legend: { display: false }, tooltip: { enabled: false } },
      },
      plugins: [makeFrame(sp)],
    } as any);
    return () => chart.destroy();
  }, [sp]);
  return (
    <canvas
      ref={ref}
      width={W}
      height={H}
      style={{ position: "absolute", left: sp.left - PADL, top: sp.top - PADT, width: W, height: H }}
    />
  );
}

const headerX = [155, 342, 522, 744, 928, 1100];

export default function App() {
  useEffect(() => {
    document.body.style.margin = "0";
  }, []);
  return (
    <div style={{ position: "absolute", left: 0, top: 0, width: 1200, height: 1561, background: "#fff", overflow: "hidden" }}>
      {SPECS.map((sp) => <Panel key={sp.key} sp={sp} />)}
      <svg width={1200} height={1561} style={{ position: "absolute", left: 0, top: 0, pointerEvents: "none" }}>
        <text x={97} y={32} fontFamily='"Liberation Mono", monospace' fontSize={34} fill={INK}>Cut across TMC1−C</text>
        <text x={3} y={71} fontFamily='"Liberation Serif", serif' fontSize={31} fill={INK}>Av</text>
        <line x1={57} y1={60} x2={1191} y2={60} stroke={INK} strokeWidth={1.4} />
        <polyline points="1173,53.5 1191,60 1173,66.5" fill="none" stroke={INK} strokeWidth={1.4} />
        {magnitudes.map((m, i) => (
          <text key={m} x={headerX[i]} y={130} textAnchor="middle" fontFamily={FONT} fontSize={22} letterSpacing={3} fill={INK}>{m}</text>
        ))}
        <text x={79} y={1548} fontFamily={FONT} fontSize={22} fill={INK}>
          v<tspan fontSize={15} dy={5}>lsr</tspan><tspan fontSize={22} dy={-5}>(km s</tspan><tspan fontSize={15} dy={-10}>−1</tspan><tspan fontSize={22} dy={10}>)</tspan>
        </text>
      </svg>
    </div>
  );
}
